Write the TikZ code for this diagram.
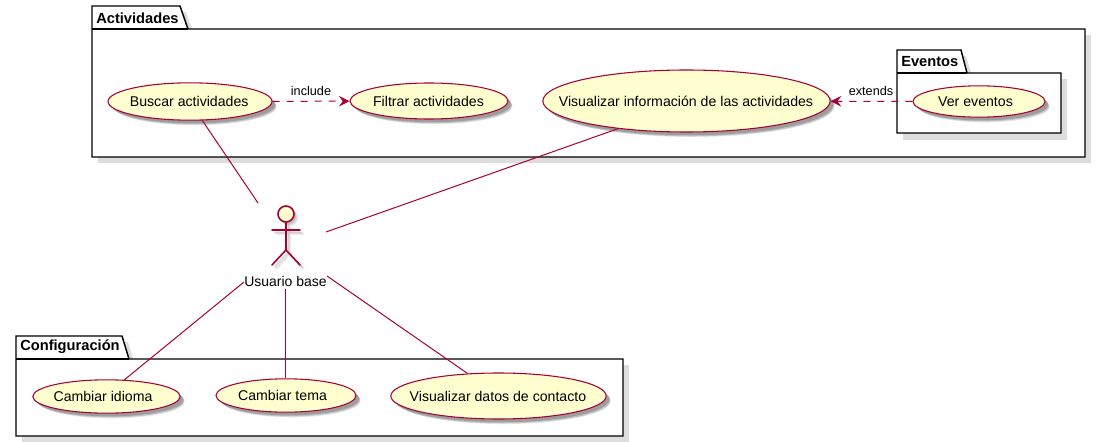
\documentclass[tikz,border=0pt]{standalone}
\usepackage{fontspec}
\setmainfont{Liberation Sans}
\usetikzlibrary{shapes.geometric,arrows.meta,shadows}
\definecolor{umlline}{HTML}{A80036}
\definecolor{umlfill}{HTML}{FEFECE}
\definecolor{umlshade}{HTML}{DDDDDD}
\tikzset{
  px/.style={x=0.75pt,y=-0.75pt},
  usecase/.style 2 args={ellipse,draw=umlline,fill=umlfill,line width=0.8pt,inner sep=0pt,
    drop shadow={shadow xshift=4pt,shadow yshift=-4pt,shadow scale=0.99,fill=gray,opacity=.2},
    drop shadow={shadow xshift=3.2pt,shadow yshift=-3.2pt,shadow scale=1,fill=gray,opacity=.35},
    drop shadow={shadow xshift=2.4pt,shadow yshift=-2.4pt,shadow scale=1,fill=gray,opacity=.55},
    label={[font=\fontsize{10.6}{12}\selectfont,inner sep=0pt,xshift=#2pt]center:#1}},
  frameline/.style={draw=black,line width=1.1pt,line join=miter,fill=white},
  frameshade/.style={fill=umlshade,draw=none},
  pkgtitle/.style={font=\bfseries\fontsize{11}{12}\selectfont,anchor=west,inner sep=0pt},
  assoc/.style={draw=umlline,line width=0.75pt},
  depend/.style={draw=umlline,line width=0.75pt,dash pattern=on 5.25pt off 5.25pt,
    -{Stealth[length=8pt,width=8pt,inset=3pt]}},
  linktext/.style={font=\fontsize{9.5}{11}\selectfont,inner sep=0pt},
  actorline/.style={draw=umlline,line width=1.2pt,line cap=round},
}
\begin{document}
\begin{tikzpicture}[px]
\useasboundingbox (0,0) rectangle (1100,442);
% package: Actividades
\fill[frameshade] (98,35) -- (1091,35) -- (1091,163) -- (98,163) -- cycle;
\fill[frameshade] (181,12) -- (186,12) -- (194,35) -- (188,35) -- cycle;
\path[frameline] (92,29) -- (92,6) -- (180,6) -- (188,29) -- (1085,29) -- (1085,157) -- (92,157) -- cycle;
\draw[line width=1.1pt] (92,29) -- (188,29);
\node[pkgtitle] (tA) at (96,18) {Actividades};
% package: Eventos
\fill[frameshade] (903,79) -- (1067,79) -- (1067,140) -- (903,140) -- cycle;
\fill[frameshade] (961,56) -- (966,56) -- (973,79) -- (967,79) -- cycle;
\path[frameline] (897,73) -- (897,50) -- (961,50) -- (967,73) -- (1061,73) -- (1061,133) -- (897,133) -- cycle;
\draw[line width=1.1pt] (897,73) -- (967,73);
\node[pkgtitle] (tE) at (901,62) {Eventos};
% package: Configuración
\fill[frameshade] (22,365) -- (629,365) -- (629,442) -- (22,442) -- cycle;
\fill[frameshade] (122,342) -- (128,342) -- (135,365) -- (129,365) -- cycle;
\path[frameline] (16,359) -- (16,336) -- (122,336) -- (129,359) -- (623,359) -- (623,436) -- (16,436) -- cycle;
\draw[line width=1.1pt] (16,359) -- (129,359);
\node[pkgtitle] (tC) at (20,347) {Configuración};
% use cases
\node[usecase={Buscar actividades}{-0.6},minimum width=123pt,minimum height=28pt] (buscar) at (190,101.5) {};
\node[usecase={Filtrar actividades}{-0.4},minimum width=118.5pt,minimum height=27pt] (filtrar) at (429,101) {};
\node[usecase={Visualizar información de las actividades}{-0.4},minimum width=215.5pt,minimum height=46.5pt] (vis) at (686.5,101) {};
\node[usecase={Ver eventos}{-2.6},minimum width=99pt,minimum height=23.5pt] (ver) at (979,101.5) {};
\node[usecase={Cambiar idioma}{-2.6},minimum width=110.5pt,minimum height=25pt] (idioma) at (106.5,396.5) {};
\node[usecase={Cambiar tema}{-2.6},minimum width=105pt,minimum height=25pt] (tema) at (286,395.5) {};
\node[usecase={Visualizar datos de contacto}{-0.4},minimum width=161.5pt,minimum height=34.5pt] (datos) at (498.5,396) {};
% actor
\foreach \sx/\op in {3.2/.15,2.4/.2,1.6/.25}{
  \fill[gray,opacity=\op,xshift=\sx pt,yshift=-\sx pt] (286,214) circle (8);
  \draw[gray,opacity=\op,line width=1.2pt,xshift=\sx pt,yshift=-\sx pt] (272,230) -- (300,230) (286,222) -- (286,250) -- (272,265) (286,250) -- (300,265);
}
\node[circle,draw=umlline,fill=umlfill,line width=1.2pt,minimum size=12pt,inner sep=0pt] (head) at (286,214) {};
\coordinate (armL) at (272,230);
\coordinate (armR) at (300,230);
\coordinate (hip) at (286,250);
\coordinate (footL) at (272,265);
\coordinate (footR) at (300,265);
\draw[actorline] (head) -- (hip) (armL) -- (armR) (footL) -- (hip) -- (footR);
\node[font=\fontsize{10.5}{12}\selectfont,inner sep=0pt] (actor) at (285.5,281) {Usuario base};
% free ends at the actor's box
\coordinate (actNW) at (258,203);
\coordinate (actE) at (326,232);
\coordinate (actSW) at (244,282);
\coordinate (actS) at (285.5,289);
\coordinate (actSE) at (327,276);
% connectors
\draw[assoc] (buscar.-57) -- (actNW);
\draw[assoc] (vis.202.8) -- (actE);
\draw[assoc] (actSW) -- (idioma.43.4);
\draw[assoc] (actS) -- (actS |- tema.north);
\draw[assoc] (actSE) -- (datos.144.7);
\draw[depend] (buscar) -- (filtrar);
\node[linktext] (inc) at (311,90.5) {include};
\draw[depend] (ver) -- (vis);
\node[linktext] (ext) at (871,90.5) {extends};
\end{tikzpicture}
\end{document}
